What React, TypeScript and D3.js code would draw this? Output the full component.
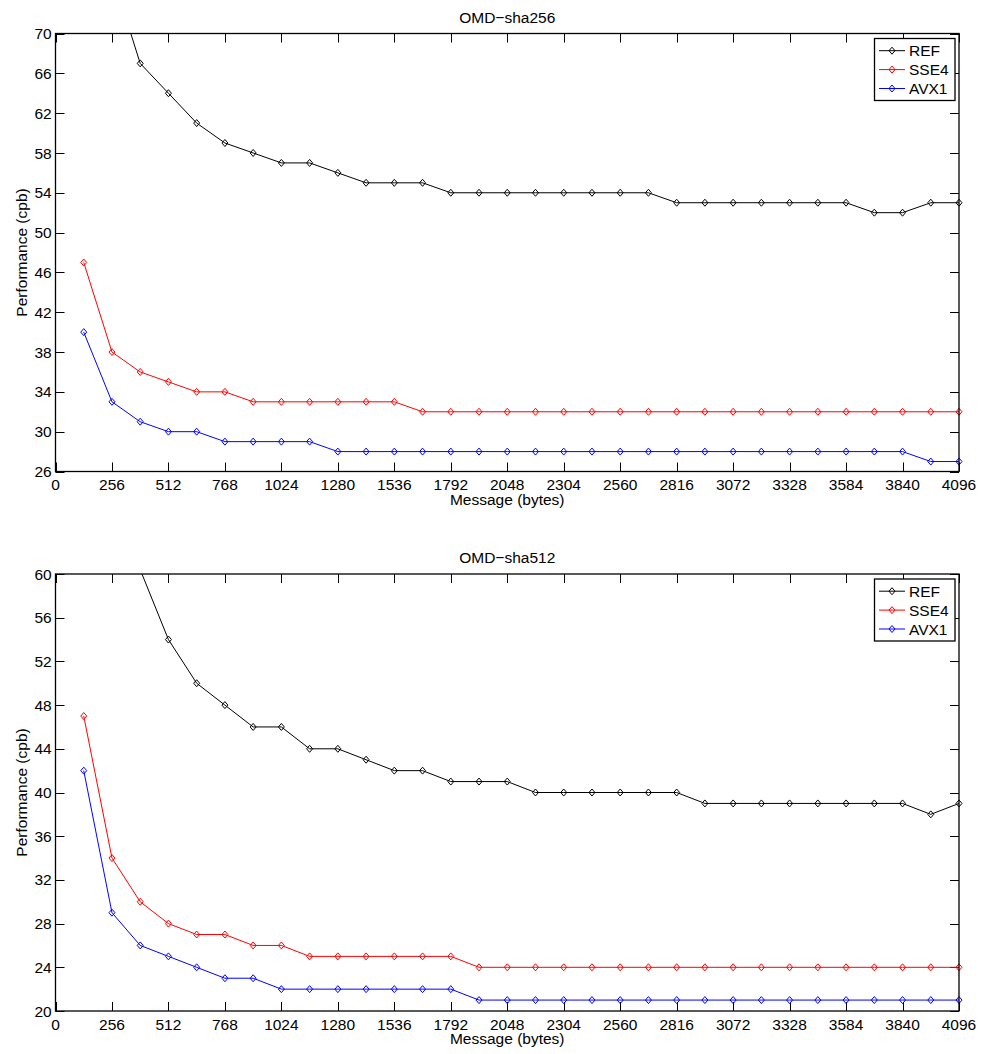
import React, { useEffect, useRef } from 'react';
import * as d3 from 'd3';

// message sizes (bytes)
const msgBytes = [128, 256, 384, 512, 640, 768, 896, 1024, 1152, 1280, 1408, 1536, 1664, 1792, 1920, 2048,
    2176, 2304, 2432, 2560, 2688, 2816, 2944, 3072, 3200, 3328, 3456, 3584, 3712, 3840, 3968, 4096];

// OMD-sha256 (cpb)
const ref256 = [84, 76, 67, 64, 61, 59, 58, 57, 57, 56, 55, 55, 55, 54, 54, 54,
    54, 54, 54, 54, 54, 53, 53, 53, 53, 53, 53, 53, 52, 52, 53, 53];
const sse4_256 = [47, 38, 36, 35, 34, 34, 33, 33, 33, 33, 33, 33, 32, 32, 32, 32,
    32, 32, 32, 32, 32, 32, 32, 32, 32, 32, 32, 32, 32, 32, 32, 32];
const avx1_256 = [40, 33, 31, 30, 30, 29, 29, 29, 29, 28, 28, 28, 28, 28, 28, 28,
    28, 28, 28, 28, 28, 28, 28, 28, 28, 28, 28, 28, 28, 28, 27, 27];

// OMD-sha512 (cpb)
const ref512 = [88, 70, 60.4, 54, 50, 48, 46, 46, 44, 44, 43, 42, 42, 41, 41, 41,
    40, 40, 40, 40, 40, 40, 39, 39, 39, 39, 39, 39, 39, 39, 38, 39];
const sse4_512 = [47, 34, 30, 28, 27, 27, 26, 26, 25, 25, 25, 25, 25, 25, 24, 24,
    24, 24, 24, 24, 24, 24, 24, 24, 24, 24, 24, 24, 24, 24, 24, 24];
const avx1_512 = [42, 29, 26, 25, 24, 23, 23, 22, 22, 22, 22, 22, 22, 22, 21, 21,
    21, 21, 21, 21, 21, 21, 21, 21, 21, 21, 21, 21, 21, 21, 21, 21];

const seriesNames = ['REF', 'SSE4', 'AVX1'];
const seriesColors = ['#000000', '#ff0000', '#0000ff'];

const xTicks = [0, 256, 512, 768, 1024, 1280, 1536, 1792, 2048, 2304, 2560, 2816, 3072, 3328, 3584, 3840, 4096];
const yTicks256 = [26, 30, 34, 38, 42, 46, 50, 54, 58, 62, 66, 70];
const yTicks512 = [20, 24, 28, 32, 36, 40, 44, 48, 52, 56, 60];

const FONT = '"Liberation Sans", Arial, Helvetica, sans-serif';
const FS = 15.5;
const LEFT = 55.5, RIGHT = 959;
const TICK = 9;

const diamond = (x, y) => `M${x},${y - 3.5}L${x + 3},${y}L${x},${y + 3.5}L${x - 3},${y}Z`;

const drawPanel = (svg, { id, title, top, bottom, yTicks, series }) => {
    const x = d3.scaleLinear().domain([0, 4096]).range([LEFT, RIGHT]);
    const y = d3.scaleLinear().domain([yTicks[0], yTicks[yTicks.length - 1]]).range([bottom, top]);
    const [yMin, yMax] = y.domain();

    const g = svg.append('g');

    g.append('clipPath').attr('id', id)
        .append('rect')
        .attr('x', LEFT).attr('y', top)
        .attr('width', RIGHT - LEFT).attr('height', bottom - top);

    // ticks (inward, on all four sides)
    const ticks = g.append('g').attr('stroke', '#000').attr('stroke-width', 1);
    xTicks.forEach(t => {
        const px = Math.round(x(t)) + 0.5;
        ticks.append('line').attr('x1', px).attr('x2', px).attr('y1', bottom).attr('y2', bottom - TICK);
        ticks.append('line').attr('x1', px).attr('x2', px).attr('y1', top).attr('y2', top + TICK);
    });
    yTicks.forEach(t => {
        const py = Math.round(y(t)) + 0.5;
        ticks.append('line').attr('x1', LEFT).attr('x2', LEFT + TICK).attr('y1', py).attr('y2', py);
        ticks.append('line').attr('x1', RIGHT).attr('x2', RIGHT - TICK).attr('y1', py).attr('y2', py);
    });

    // series
    const line = d3.line()
        .x((d) => x(d[0]))
        .y((d) => y(d[1]));

    series.forEach((vals, i) => {
        const pts = msgBytes.map((b, j) => [b, vals[j]]);
        g.append('path')
            .attr('d', line(pts))
            .attr('fill', 'none')
            .attr('stroke', seriesColors[i])
            .attr('stroke-width', 1)
            .attr('clip-path', `url(#${id})`);
        g.append('g').selectAll('path')
            .data(pts.filter(p => p[1] >= yMin && p[1] <= yMax))
            .enter()
            .append('path')
            .attr('d', (d) => diamond(x(d[0]), y(d[1])))
            .attr('fill', 'none')
            .attr('stroke', seriesColors[i])
            .attr('stroke-width', 1);
    });

    // frame
    g.append('rect')
        .attr('x', LEFT).attr('y', top)
        .attr('width', RIGHT - LEFT).attr('height', bottom - top)
        .attr('fill', 'none').attr('stroke', '#000').attr('stroke-width', 1.3);

    // tick labels
    const labels = g.append('g').attr('font-family', FONT).attr('font-size', FS).attr('fill', '#000');
    xTicks.forEach(t => {
        labels.append('text').attr('x', x(t)).attr('y', bottom + 18.8)
            .attr('text-anchor', 'middle').text(t);
    });
    yTicks.forEach(t => {
        labels.append('text').attr('x', LEFT - 3.8).attr('y', y(t)).attr('dy', '0.36em')
            .attr('text-anchor', 'end').text(t);
    });

    labels.append('text').attr('x', (LEFT + RIGHT) / 2).attr('y', top - 11)
        .attr('text-anchor', 'middle').text(title);
    labels.append('text').attr('x', (LEFT + RIGHT) / 2).attr('y', bottom + 33.3)
        .attr('text-anchor', 'middle').text('Message (bytes)');
    labels.append('text')
        .attr('transform', `translate(27,${(top + bottom) / 2}) rotate(-90)`)
        .attr('text-anchor', 'middle').text('Performance (cpb)');

    // legend
    const lg = g.append('g');
    lg.append('rect')
        .attr('x', 874.5).attr('y', top + 5)
        .attr('width', 80.5).attr('height', 62)
        .attr('fill', '#fff').attr('stroke', '#000').attr('stroke-width', 1.3);
    seriesNames.forEach((name, i) => {
        const ly = top + 17.2 + i * 18.9;
        lg.append('line').attr('x1', 879).attr('x2', 905).attr('y1', ly).attr('y2', ly)
            .attr('stroke', seriesColors[i]).attr('stroke-width', 1);
        lg.append('path').attr('d', diamond(892, ly))
            .attr('fill', 'none').attr('stroke', seriesColors[i]).attr('stroke-width', 1);
        lg.append('text').attr('x', 909).attr('y', ly).attr('dy', '0.36em')
            .attr('font-family', FONT).attr('font-size', FS).attr('fill', '#000')
            .text(name);
    });
};

const App = () => {
    const ref = useRef(null);

    useEffect(() => {
        const svg = d3.select(ref.current);
        svg.selectAll('*').remove();

        drawPanel(svg, {
            id: 'clip256',
            title: 'OMD\u2212sha256',
            top: 33.5,
            bottom: 471.5,
            yTicks: yTicks256,
            series: [ref256, sse4_256, avx1_256]
        });
        drawPanel(svg, {
            id: 'clip512',
            title: 'OMD\u2212sha512',
            top: 574,
            bottom: 1011,
            yTicks: yTicks512,
            series: [ref512, sse4_512, avx1_512]
        });
    }, []);

    return (
        <svg ref={ref} width={984} height={1054}
            style={{ position: 'absolute', left: 0, top: 0, background: '#fff', display: 'block' }} />
    );
};

export default App;
